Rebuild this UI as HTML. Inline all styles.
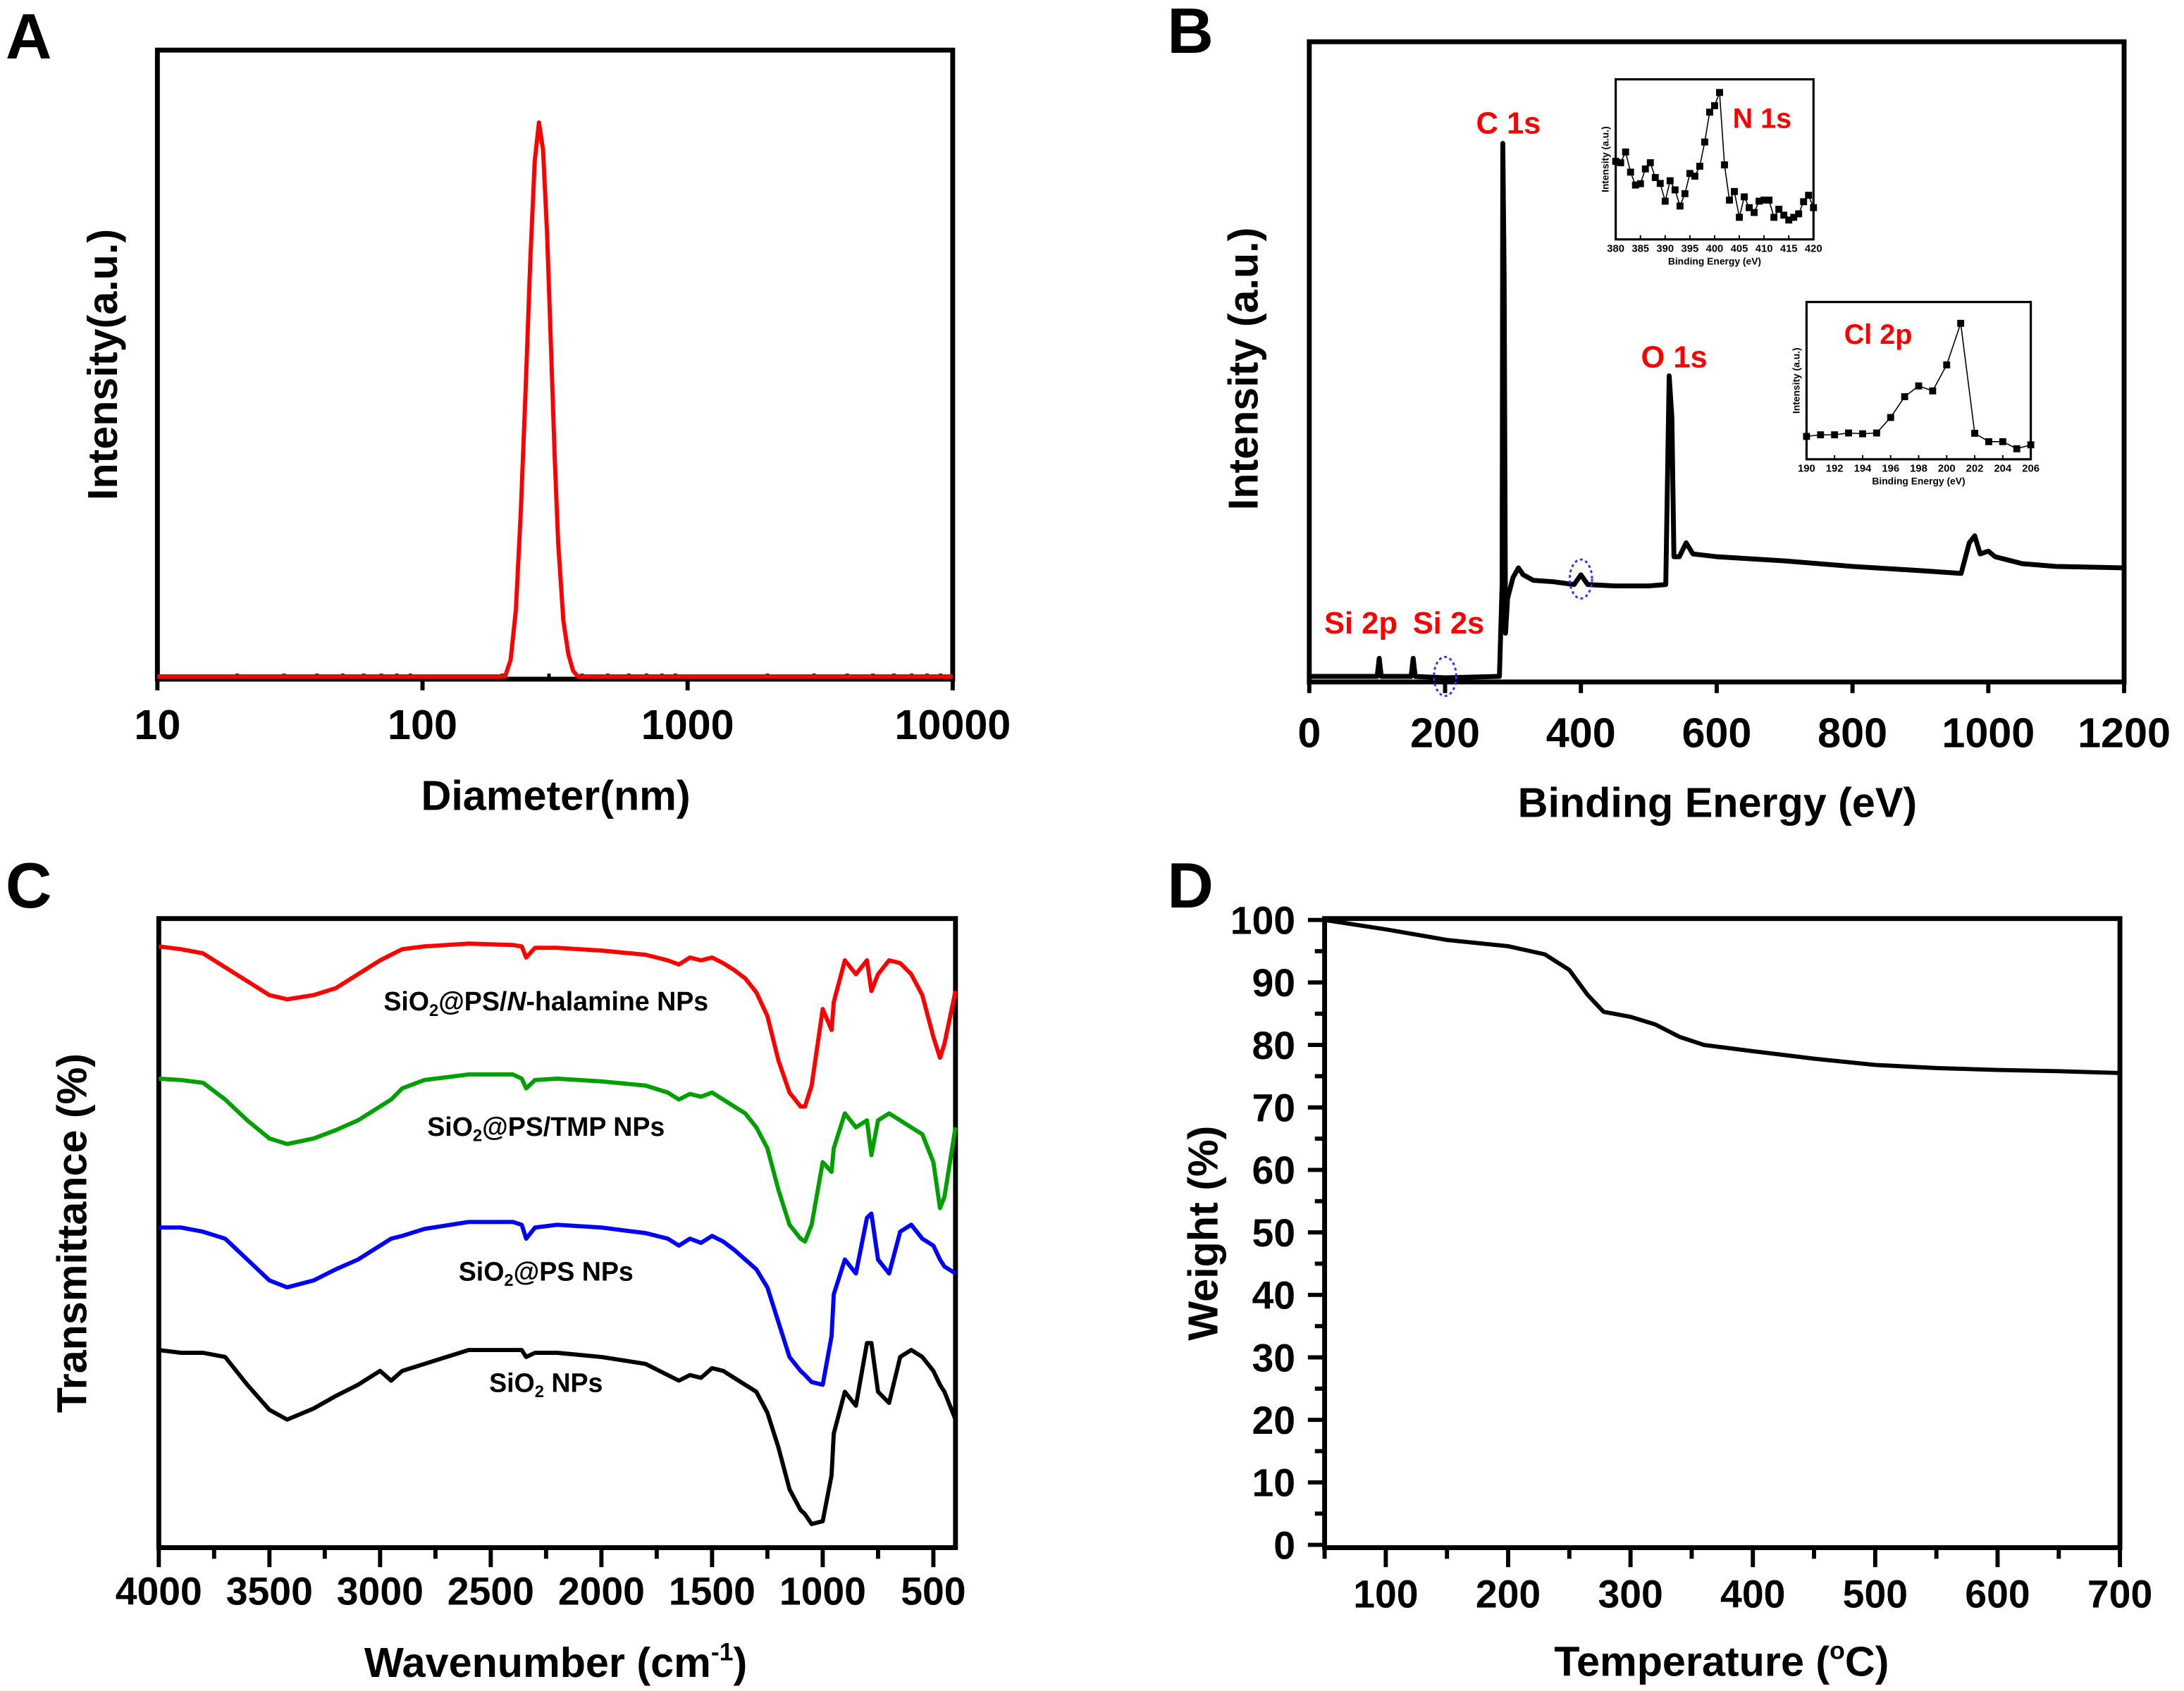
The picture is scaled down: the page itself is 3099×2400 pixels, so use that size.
<!DOCTYPE html>
<html><head><meta charset="utf-8"><style>
html,body{margin:0;padding:0;background:#fff;}
svg{display:block;font-family:"Liberation Sans",Arial,sans-serif;font-weight:bold;}
</style></head><body>
<svg id="fig" width="3099" height="2400" viewBox="0 0 1568 1215" preserveAspectRatio="none" xmlns="http://www.w3.org/2000/svg">
<rect x="0" y="0" width="1568" height="1215" fill="#fff"/>
<text x="4" y="42" font-size="46">A</text>
<text x="838" y="38" font-size="46">B</text>
<text x="4" y="652" font-size="46">C</text>
<text x="838" y="652" font-size="46">D</text>
</svg>
<script>
// ---------- Panel A data ----------
const aDiam = [10, 205, 215, 225, 235, 245, 255, 265, 275, 285, 295, 305, 315, 325, 340, 355, 370, 385, 10000];
const aInt = [0, 0, 3, 12, 30, 52, 75, 93, 100, 95, 80, 60, 40, 24, 10, 4, 1, 0, 0];
const aTicks = [10, 100, 1000, 10000];
// ---------- Panel B data ----------
const bEv = [0,100,103,106,150,153,156,200,280,284,285,287,289,292,300,308,315,330,360,390,400,410,450,500,525,530,534,537,545,555,565,600,700,800,900,960,972,980,988,1000,1010,1050,1100,1200];
const bInt = [4,4,17,4,4,17,4,3,4,70,387,290,35,60,75,82,77,73,72,70,77,70,69,69,70,220,190,90,90,100,92,90,87,83,80,78,100,105,92,94,90,85,83,82];
const bTicks = [0,200,400,600,800,1000,1200];
const nEv = [380,381,382,383,384,385,386,387,388,389,390,391,392,393,394,395,396,397,398,399,400,401,402,403,404,405,406,407,408,409,410,411,412,413,414,415,416,417,418,419,420];
const nInt = [290,285,325,250,202,207,262,285,230,208,142,218,184,124,170,245,235,272,362,473,497,546,277,146,178,82,158,118,100,142,146,146,82,112,90,72,82,95,140,164,118];
const nTicks = [380,385,390,395,400,405,410,415,420];
const clEv = [190,191,192,193,194,195,196,197,198,199,200,201,202,203,204,205,206];
const clInt = [87,93,93,100,97,100,159,238,279,260,359,517,99,67,67,40,55];
const clTicks = [190,192,194,196,198,200,202,204,206];
// ---------- Panel C data ----------
const cWn = [4000,3900,3800,3700,3600,3500,3420,3300,3200,3100,3000,2950,2900,2800,2600,2400,2360,2340,2300,2200,2000,1800,1700,1650,1600,1550,1500,1450,1400,1350,1300,1250,1200,1150,1100,1080,1050,1000,960,950,900,850,800,780,750,700,650,600,550,500,470,450,400];
const cSiO2 = [142,140,140,137,117,99,92,100,109,117,127,120,127,132,142,142,142,137,140,140,137,132,124,120,124,122,129,127,122,117,112,97,72,42,27,24,17,19,52,82,112,102,147,147,112,104,137,142,137,127,117,112,92];
const cSiO2PS = [230,230,227,222,207,192,187,192,200,207,217,222,224,229,234,234,232,222,230,232,230,226,222,217,222,219,224,220,214,207,200,187,162,137,127,124,119,117,152,182,207,197,237,240,207,197,227,232,222,217,207,202,197];
const cTMP = [337,336,334,322,307,294,290,294,300,307,317,322,330,336,340,340,337,330,336,337,335,332,327,322,326,324,327,322,317,312,302,287,257,232,222,220,232,277,270,287,312,302,307,282,307,312,307,302,297,277,244,252,302];
const cNhal = [432,430,427,417,407,397,394,397,402,412,422,426,430,432,434,433,432,424,431,431,429,426,422,419,424,422,424,420,415,409,399,382,350,327,317,317,332,387,372,392,422,412,422,400,412,422,420,412,397,367,352,362,400];
const cTicks = [4000,3500,3000,2500,2000,1500,1000,500];
// ---------- Panel D data ----------
const dTemp = [50,100,150,200,230,250,265,278,300,320,340,360,400,450,500,550,600,650,700];
const dWeight = [100,98.5,96.8,95.8,94.5,92,88,85.3,84.5,83.3,81.3,80,79,77.8,76.8,76.3,76,75.8,75.5];
const dXTicks = [100,200,300,400,500,600,700];
const dYTicks = [0,10,20,30,40,50,60,70,80,90,100];

const NS = "http://www.w3.org/2000/svg";
const svg = document.getElementById('fig');
function mk(tag, attrs, parent) {
  const e = document.createElementNS(NS, tag);
  for (const k in attrs) e.setAttribute(k, attrs[k]);
  (parent || svg).appendChild(e);
  return e;
}
function txt(s, x, y, size, anchor, parent, fill) {
  const t = mk('text', {x: x, y: y, 'font-size': size, 'text-anchor': anchor || 'middle', fill: fill || '#000'}, parent);
  t.textContent = s;
  return t;
}
function polyPath(xs, ys, fx, fy) {
  let d = '';
  for (let i = 0; i < xs.length; i++) d += (i ? 'L' : 'M') + fx(xs[i]).toFixed(2) + ',' + fy(ys[i]).toFixed(2);
  return d;
}

// ================= Panel A =================
(function(){
  const L=113,R=684,T=36,B=488;
  const g = mk('g', {});
  
  
  const fx = v => L + (Math.log10(v) - 1) / 3 * (R - L);
  const fy = v => 486 - v / 100 * (486 - 88);
  const box = mk('rect', {x:L,y:T,width:R-L,height:B-T,fill:'none',stroke:'#000','stroke-width':3.5}, g);
  
  
  for (let dec = 1; dec < 4; dec++) for (let m = 2; m < 10; m++) {
    const v = m * Math.pow(10, dec);
    const t = mk('line', {x1:fx(v),x2:fx(v),y1:B,y2:B-4,stroke:'#000','stroke-width':2.5}, g);
    
    
  }
  aTicks.forEach(v => {
    const t = mk('line', {x1:fx(v),x2:fx(v),y1:B,y2:B+8,stroke:'#000','stroke-width':3}, g);
    
    
    const l = txt(String(v), fx(v), 531, 30, 'middle', g);
    
    
  });
  const p = mk('path', {d: polyPath(aDiam, aInt, fx, fy), fill:'none', stroke:'#ff0000', 'stroke-width':3, 'stroke-linejoin':'round'}, g);
  
  
  const xt = txt('Diameter(nm)', 399, 582, 30, 'middle', g);
  
  
  const yt = txt('Intensity(a.u.)', 0, 0, 30, 'middle', g);
  yt.setAttribute('transform', 'translate(84,262) rotate(-90)');
  
  
})();

// ================= Panel B =================
(function(){
  const L=940,R=1525,T=30,B=490;
  const g = mk('g', {});
  
  
  const fx = v => L + v / 1200 * (R - L);
  const fy = v => B - v;
  const box = mk('rect', {x:L,y:T,width:R-L,height:B-T,fill:'none',stroke:'#000','stroke-width':3.5}, g);
  
  
  bTicks.forEach(v => {
    const t = mk('line', {x1:fx(v),x2:fx(v),y1:B,y2:B+8,stroke:'#000','stroke-width':3}, g);
    
    
    const l = txt(String(v), fx(v), 537, 30, 'middle', g);
    
    
  });
  const p = mk('path', {d: polyPath(bEv, bInt, fx, fy), fill:'none', stroke:'#000', 'stroke-width':3.5, 'stroke-linejoin':'round'}, g);
  
  
  [[200,486],[400,416]].forEach(c => {
    const e = mk('ellipse', {cx:fx(c[0]),cy:c[1],rx:8,ry:14,fill:'none',stroke:'#3333ff','stroke-width':1.5,'stroke-dasharray':'2,2'}, g);
    
    
  });
  const labels = [['C 1s',1083,96],['O 1s',1202,264],['Si 2p',977,455],['Si 2s',1040,455]];
  labels.forEach(a => {
    const t = txt(a[0], a[1], a[2], 22, 'middle', g, '#ff0000');
    
    
  });
  const xt = txt('Binding Energy (eV)', 1233, 587, 30, 'middle', g);
  
  
  const yt = txt('Intensity (a.u.)', 0, 0, 30, 'middle', g);
  yt.setAttribute('transform', 'translate(903,265) rotate(-90)');
  
  

  function inset(name, xs, ys, ticks, x0, x1, L2, R2, T2, B2, ymax, lab, lx, ly) {
    const gi = mk('g', {}, g);
    
    
    const ix = v => L2 + (v - x0) / (x1 - x0) * (R2 - L2);
    const iy = v => B2 - v / ymax * (B2 - T2);
    const r = mk('rect', {x:L2,y:T2,width:R2-L2,height:B2-T2,fill:'#fff',stroke:'#000','stroke-width':1.6}, gi);
    
    
    ticks.forEach(v => {
      const t = mk('line', {x1:ix(v),x2:ix(v),y1:B2,y2:B2-3,stroke:'#000','stroke-width':1}, gi);
      
      
      const l = txt(String(v), ix(v), B2+9, 7.5, 'middle', gi);
      
      
    });
    const p = mk('path', {d: polyPath(xs, ys, ix, iy), fill:'none', stroke:'#000','stroke-width':0.8}, gi);
    
    
    xs.forEach((v, i) => {
      const s = mk('rect', {x:ix(v)-2.5,y:iy(ys[i])-2.5,width:5,height:5,fill:'#000'}, gi);
      
      
    });
    const xt = txt('Binding Energy (eV)', (L2+R2)/2, B2+18, 7, 'middle', gi);
    
    
    const yt = txt('Intensity (a.u.)', 0, 0, 7, 'middle', gi);
    yt.setAttribute('transform', 'translate(' + (L2-5) + ',' + ((T2+B2)/2) + ') rotate(-90)');
    
    
    const lt = txt(lab, lx, ly, 20, 'start', gi, '#ff0000');
    
    
  }
  inset('inset-n1s', nEv, nInt, nTicks, 380, 420, 1160, 1302, 57, 172, 595, 'N 1s', 1244, 92);
  inset('inset-cl2p', clEv, clInt, clTicks, 190, 206, 1297, 1458, 217, 330, 598, 'Cl 2p', 1324, 247);
})();

// ================= Panel C =================
(function(){
  const L=114,R=686,T=660,B=1112;
  const g = mk('g', {});
  
  
  const fx = v => L + (4000 - v) / 3600 * (R - L);
  const fy = v => B - v;
  const box = mk('rect', {x:L,y:T,width:R-L,height:B-T,fill:'none',stroke:'#000','stroke-width':3.5}, g);
  
  
  for (let v = 4000; v >= 400; v -= 250) {
    const major = (v % 500 === 0);
    const t = mk('line', {x1:fx(v),x2:fx(v),y1:B,y2:B+(major?14:8),stroke:'#000','stroke-width':3}, g);
    
    
  }
  cTicks.forEach(v => {
    const l = txt(String(v), fx(v), 1153, 28, 'middle', g);
    
    
  });
  const series = [['ftir-sio2', cSiO2, '#000000'], ['ftir-sio2-ps', cSiO2PS, '#0000ff'], ['ftir-sio2-ps-tmp', cTMP, '#00a000'], ['ftir-sio2-ps-n-halamine', cNhal, '#ff0000']];
  series.forEach(s => {
    const p = mk('path', {d: polyPath(cWn, s[1], fx, fy), fill:'none', stroke:s[2], 'stroke-width':3, 'stroke-linejoin':'round'}, g);
    
    
  });
  function lab(parts, x, y, name) {
    const t = mk('text', {x:x, y:y, 'font-size':19, 'text-anchor':'middle'}, g);
    
    
    parts.forEach(pt => {
      const ts = mk('tspan', pt[1] || {}, t);
      ts.textContent = pt[0];
    });
  }
  lab([['SiO'],['2',{'font-size':12,dy:4}],['@PS/',{dy:-4}],['N',{'font-style':'italic'}],['-halamine NPs']], 392, 726, 'series-label-n-halamine');
  lab([['SiO'],['2',{'font-size':12,dy:4}],['@PS/TMP NPs',{dy:-4}]], 392, 816, 'series-label-tmp');
  lab([['SiO'],['2',{'font-size':12,dy:4}],['@PS NPs',{dy:-4}]], 392, 920, 'series-label-sio2-ps');
  lab([['SiO'],['2',{'font-size':12,dy:4}],[' NPs',{dy:-4}]], 392, 1000, 'series-label-sio2');
  const xt = mk('text', {x:399, y:1205, 'font-size':30, 'text-anchor':'middle'}, g);
  
  
  [['Wavenumber (cm'],['-1',{'font-size':18,dy:-12}],[')',{dy:12}]].forEach(pt => { const ts = mk('tspan', pt[1]||{}, xt); ts.textContent = pt[0]; });
  const yt = txt('Transmittance (%)', 0, 0, 30, 'middle', g);
  yt.setAttribute('transform', 'translate(62,886) rotate(-90)');
  
  
})();

// ================= Panel D =================
(function(){
  const L=951,R=1522,T=660,B=1112;
  const g = mk('g', {});
  
  
  const fx = v => L + (v - 50) / 650 * (R - L);
  const fy = v => 1110 - v / 100 * (1110 - 661);
  const box = mk('rect', {x:L,y:T,width:R-L,height:B-T,fill:'none',stroke:'#000','stroke-width':3.5}, g);
  
  
  for (let v = 50; v <= 700; v += 50) {
    const major = (v % 100 === 0);
    const t = mk('line', {x1:fx(v),x2:fx(v),y1:B,y2:B+(major?14:8),stroke:'#000','stroke-width':3}, g);
    
    
  }
  dXTicks.forEach(v => {
    const l = txt(String(v), fx(v), 1155, 28, 'middle', g);
    
    
  });
  for (let v = 0; v <= 100; v += 5) {
    const major = (v % 10 === 0);
    const t = mk('line', {x1:L,x2:L-(major?12:7),y1:fy(v),y2:fy(v),stroke:'#000','stroke-width':3}, g);
    
    
  }
  dYTicks.forEach(v => {
    const l = txt(String(v), 930, fy(v)+10, 28, 'end', g);
    
    
  });
  const p = mk('path', {d: polyPath(dTemp, dWeight, fx, fy), fill:'none', stroke:'#000', 'stroke-width':3, 'stroke-linejoin':'round'}, g);
  
  
  const xt = mk('text', {x:1236, y:1204, 'font-size':30, 'text-anchor':'middle'}, g);
  
  
  [['Temperature ('],['o',{'font-size':18,dy:-12}],['C)',{dy:12}]].forEach(pt => { const ts = mk('tspan', pt[1]||{}, xt); ts.textContent = pt[0]; });
  const yt = txt('Weight (%)', 0, 0, 30, 'middle', g);
  yt.setAttribute('transform', 'translate(874,886) rotate(-90)');
  
  
})();
</script>
</body></html>
